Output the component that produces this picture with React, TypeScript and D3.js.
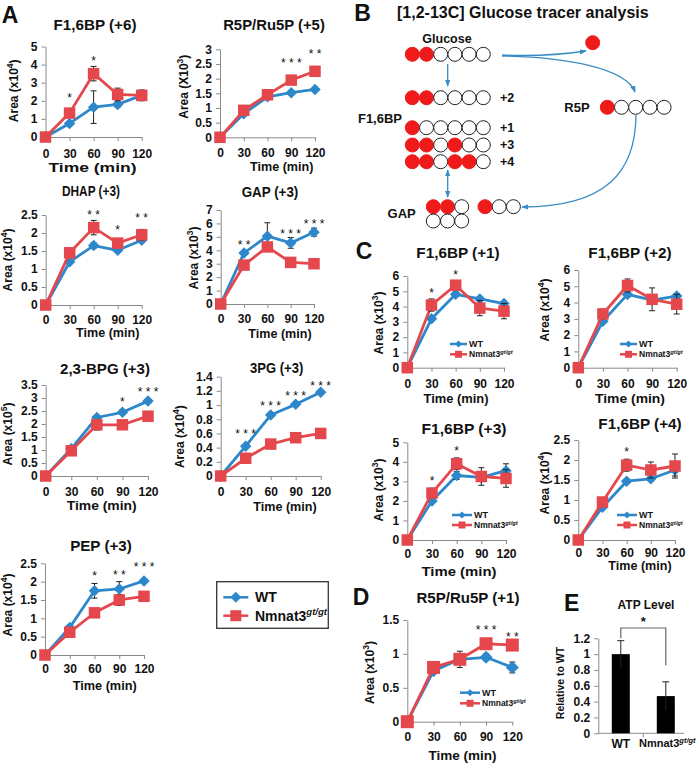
import React, { useEffect, useRef } from 'react';
import * as d3 from 'd3';

const FONT = "'Liberation Sans', Arial, Helvetica, sans-serif";
const BLUE = '#2d87cb';
const RED = '#e4484c';
const AXIS = '#8a8a8a';
const DOT_RED = '#ef1b1b';
const ARROW = '#3a8cc6';

const times = [0, 30, 60, 90, 120];

// Panel A
const f16bp6Wt = [0, 0.75, 1.65, 1.8, 2.3];
const f16bp6WtErr = [0, 0.08, 0.9, 0.15, 0.2];
const f16bp6Mut = [0, 1.32, 3.5, 2.35, 2.3];
const f16bp6MutErr = [0, 0.1, 0.4, 0.35, 0.3];
const f16bp6Stars = ['', '*', '*', '', ''];
const f16bp6StarY = [0, 2.3, 4.35, 0, 0];

const r5p5Wt = [0, 0.8, 1.38, 1.52, 1.63];
const r5p5WtErr = [0, 0.05, 0.05, 0.07, 0.07];
const r5p5Mut = [0, 0.92, 1.45, 1.95, 2.25];
const r5p5MutErr = [0, 0.05, 0.05, 0.08, 0.12];
const r5p5Stars = ['', '', '', '***', '**'];
const r5p5StarY = [0, 0, 0, 2.64, 2.95];

const dhapWt = [0, 1.2, 1.65, 1.52, 1.8];
const dhapWtErr = [0, 0.05, 0.07, 0.05, 0.05];
const dhapMut = [0, 1.45, 2.15, 1.72, 1.95];
const dhapMutErr = [0, 0.05, 0.2, 0.05, 0.15];
const dhapStars = ['', '', '**', '*', '**'];
const dhapStarY = [0, 0, 2.59, 2.16, 2.5];

const gapWt = [0, 3.8, 5.05, 4.55, 5.35];
const gapWtErr = [0, 0.15, 1.0, 0.4, 0.3];
const gapMut = [0, 2.9, 4.25, 3.1, 3.0];
const gapMutErr = [0, 0.1, 0.2, 0.1, 0.1];
const gapStars = ['', '**', '', '***', '***'];
const gapStarY = [0, 4.64, 0, 5.43, 6.2];

const bpgWt = [0, 1.05, 2.25, 2.45, 2.88];
const bpgWtErr = [0, 0.05, 0.08, 0.08, 0.08];
const bpgMut = [0, 0.97, 1.97, 1.97, 2.3];
const bpgMutErr = [0, 0.05, 0.2, 0.15, 0.08];
const bpgStars = ['', '', '', '*', '***'];
const bpgStarY = [0, 0, 0, 2.95, 3.33];

const pg3Wt = [0, 0.42, 0.86, 1.01, 1.18];
const pg3WtErr = [0, 0.02, 0.03, 0.02, 0.03];
const pg3Mut = [0, 0.25, 0.45, 0.54, 0.6];
const pg3MutErr = [0, 0.01, 0.01, 0.01, 0.01];
const pg3Stars = ['', '***', '***', '***', '***'];
const pg3StarY = [0, 0.634, 1.025, 1.166, 1.315];

const pepWt = [0, 0.75, 1.75, 1.8, 2.02];
const pepWtErr = [0, 0.05, 0.2, 0.2, 0.05];
const pepMut = [0, 0.62, 1.15, 1.5, 1.6];
const pepMutErr = [0, 0.05, 0.05, 0.15, 0.05];
const pepStars = ['', '', '*', '**', '***'];
const pepStarY = [0, 0, 2.23, 2.25, 2.47];

// Panel C
const c1Wt = [0, 3.2, 4.8, 4.5, 4.2];
const c1WtErr = [0, 0.1, 0.15, 0.1, 0.1];
const c1Mut = [0, 4.1, 5.4, 3.9, 3.7];
const c1MutErr = [0, 0.4, 0.3, 0.5, 0.5];
const c1Stars = ['', '*', '*', '', ''];
const c1StarY = [0, 5.08, 6.24, 0, 0];

const c2Wt = [0, 2.85, 4.5, 4.15, 4.4];
const c2WtErr = [0, 0.1, 0.15, 0.1, 0.15];
const c2Mut = [0, 3.3, 5.05, 4.2, 3.9];
const c2MutErr = [0, 0.3, 0.4, 0.7, 0.6];

const c3Wt = [0, 2.0, 3.3, 3.2, 3.55];
const c3WtErr = [0, 0.1, 0.2, 0.1, 0.35];
const c3Mut = [0, 2.4, 3.9, 3.25, 3.15];
const c3MutErr = [0, 0.25, 0.3, 0.45, 0.45];
const c3Stars = ['', '*', '*', '', ''];
const c3StarY = [0, 3.15, 4.7, 0, 0];

const c4Wt = [0, 0.82, 1.47, 1.53, 1.75];
const c4WtErr = [0, 0.03, 0.05, 0.05, 0.15];
const c4Mut = [0, 0.95, 1.87, 1.75, 1.85];
const c4MutErr = [0, 0.05, 0.15, 0.2, 0.3];
const c4Stars = ['', '', '*', '', ''];
const c4StarY = [0, 0, 2.27, 0, 0];

// Panel D
const dWt = [0, 0.75, 0.92, 0.95, 0.8];
const dWtErr = [0, 0.02, 0.03, 0.05, 0.08];
const dMut = [0, 0.8, 0.92, 1.15, 1.13];
const dMutErr = [0, 0.03, 0.12, 0.03, 0.03];
const dStars = ['', '', '', '***', '**'];
const dStarY = [0, 0, 0, 1.39, 1.3];

// Panel E
const atpCats = ['WT', 'Nmnat3'];
const atpVals = [1.0, 0.47];
const atpErr = [0.17, 0.18];

// Panel B carbon patterns (1 = labelled)
const glucoseAtoms = [1, 1, 0, 0, 0, 0];
const f16bpRows = [
  { label: '+2', atoms: [1, 1, 0, 0, 0, 0] },
  { label: '+1', atoms: [1, 0, 0, 0, 0, 0] },
  { label: '+3', atoms: [1, 1, 0, 1, 0, 0] },
  { label: '+4', atoms: [1, 1, 0, 1, 1, 0] }
];
const gapRows = [[1, 1, 0], [0, 0, 0]];
const gapRibose = [1, 0, 0];
const r5pAtoms = [1, 0, 0, 0, 0];

const charts = [
  { title: 'F1,6BP (+6)', exp: '4', xc: 'x', wt: f16bp6Wt, wtErr: f16bp6WtErr, mut: f16bp6Mut, mutErr: f16bp6MutErr, stars: f16bp6Stars, starY: f16bp6StarY, max: 5, step: 1,
    box: [45.5, 141.7, 137, 46.5], tl: [95, 25, 83], tm: [92.5, 167.5, 88], yl: [13.3, 90.8], tickY: 153.5 },
  { title: 'R5P/Ru5P (+5)', exp: '3', xc: 'X', wt: r5p5Wt, wtErr: r5p5WtErr, mut: r5p5Mut, mutErr: r5p5MutErr, stars: r5p5Stars, starY: r5p5StarY, max: 3, step: 0.5,
    box: [220, 315, 137.3, 49.3], tl: [274, 25, 101.7], tm: [281.7, 167, 63.3], yl: [183.3, 86.7], tickY: 153 },
  { title: 'DHAP (+3)', exp: '4', xc: 'x', wt: dhapWt, wtErr: dhapWtErr, mut: dhapMut, mutErr: dhapMutErr, stars: dhapStars, starY: dhapStarY, max: 2.5, step: 0.5,
    box: [45.7, 141.7, 305, 215], tl: [91, 191, 58], tm: [107.7, 333, 63.3], yl: [8, 260], tickY: 320 },
  { title: 'GAP (+3)', exp: '3', xc: 'x', wt: gapWt, wtErr: gapWtErr, mut: gapMut, mutErr: gapMutErr, stars: gapStars, starY: gapStarY, max: 7, step: 1,
    box: [220.7, 314, 304, 210], tl: [270, 191.7, 56.7], tm: [280, 333.3, 63.3], yl: [193.3, 258], tickY: 319 },
  { title: '2,3-BPG (+3)', exp: '5', xc: 'x', wt: bpgWt, wtErr: bpgWtErr, mut: bpgMut, mutErr: bpgMutErr, stars: bpgStars, starY: bpgStarY, max: 3.5, step: 0.5,
    box: [45.7, 148, 476, 385], tl: [105, 369.3, 90], tm: [101.7, 505.7, 70], yl: [8, 434], tickY: 491.7 },
  { title: '3PG (+3)', exp: '4', xc: 'x', wt: pg3Wt, wtErr: pg3WtErr, mut: pg3Mut, mutErr: pg3MutErr, stars: pg3Stars, starY: pg3StarY, max: 1.4, step: 0.2,
    box: [220.7, 320.7, 476, 376.7], tl: [276.7, 368.3, 53.3], tm: [285, 506.7, 63.3], yl: [180, 436.7], tickY: 491.7 },
  { title: 'PEP (+3)', exp: '4', xc: 'x', wt: pepWt, wtErr: pepWtErr, mut: pepMut, mutErr: pepMutErr, stars: pepStars, starY: pepStarY, max: 2.5, step: 0.5,
    box: [45, 144, 655, 563.3], tl: [101, 546, 61.7], tm: [104.7, 685.7, 64], yl: [8, 605], tickY: 669 },
  { title: 'F1,6BP (+1)', exp: '3', xc: 'x', wt: c1Wt, wtErr: c1WtErr, mut: c1Mut, mutErr: c1MutErr, stars: c1Stars, starY: c1StarY, max: 6, step: 1,
    box: [407.3, 504, 367.7, 276], tl: [458, 253.3, 83.3], tm: [456, 398.3, 65], yl: [378.3, 323], tickY: 384, leg: [450, 467, 469, 344, 354.3] },
  { title: 'F1,6BP (+2)', exp: '4', xc: 'x', wt: c2Wt, wtErr: c2WtErr, mut: c2Mut, mutErr: c2MutErr, stars: null, starY: null, max: 6, step: 1,
    box: [578.3, 676.7, 367.7, 270], tl: [630, 253.3, 83.3], tm: [630, 398.3, 70], yl: [545, 310], tickY: 384, leg: [620, 637, 639, 344, 354.3] },
  { title: 'F1,6BP (+3)', exp: '3', xc: 'x', wt: c3Wt, wtErr: c3WtErr, mut: c3Mut, mutErr: c3MutErr, stars: c3Stars, starY: c3StarY, max: 5, step: 1,
    box: [407.3, 506, 540, 442.3], tl: [464, 429.3, 85], tm: [459, 571.7, 75], yl: [378.3, 490], tickY: 554, leg: [452, 472, 474, 515, 525] },
  { title: 'F1,6BP (+4)', exp: '4', xc: 'x', wt: c4Wt, wtErr: c4WtErr, mut: c4Mut, mutErr: c4MutErr, stars: c4Stars, starY: c4StarY, max: 2.5, step: 0.5,
    box: [578.3, 675, 540, 440], tl: [640, 424.3, 83.3], tm: [640, 566, 63.3], yl: [545, 483], tickY: 553, leg: [617, 637, 639, 515, 525] },
  { title: 'R5P/Ru5P (+1)', exp: '3', xc: 'x', wt: dWt, wtErr: dWtErr, mut: dMut, mutErr: dMutErr, stars: dStars, starY: dStarY, max: 1.5, step: 0.5,
    box: [407.3, 512.3, 721.7, 620], tl: [468, 598.3, 103], tm: [462.5, 756, 68], yl: [370, 672.5], tickY: 737, leg: [460, 480, 482, 692.7, 703.3], mk: 13 }
];

const fmt = v => String(+v.toFixed(2));

const diamond = size => d3.symbol(d3.symbolSquare, size * size / 2)();
const square = size => d3.symbol(d3.symbolSquare, size * size)();

const mutLabel = (sel, fs) => {
  sel.append('tspan').text('Nmnat3');
  sel.append('tspan').attr('dy', -fs * 0.38).attr('font-size', fs * 0.68).attr('font-style', 'italic').text('gt/gt');
};

const drawLegendItem = (g, x0, x1, tx, yy, color, isWt, fs, mk) => {
  g.append('line').attr('x1', x0).attr('x2', x1).attr('y1', yy).attr('y2', yy)
    .attr('stroke', color).attr('stroke-width', 2.5);
  g.append('path').attr('d', isWt ? diamond(mk) : square(mk))
    .attr('transform', `translate(${(x0 + x1) / 2},${yy}) rotate(${isWt ? 45 : 0})`).attr('fill', color);
  const t = g.append('text').attr('x', tx).attr('y', yy).attr('dy', '0.35em').attr('font-size', fs);
  if (isWt) t.text('WT'); else mutLabel(t, fs);
};

const drawLineChart = (svg, c) => {
  const [x0, x1, y0, y1] = c.box;
  const x = d3.scaleLinear().domain([0, 120]).range([x0, x1]);
  const y = d3.scaleLinear().domain([0, c.max]).range([y0, y1]);
  const g = svg.append('g').attr('font-family', FONT).attr('font-weight', 'bold').attr('fill', '#111');
  const tickFs = 12;

  const ya = g.append('g').attr('transform', `translate(${x0},0)`)
    .call(d3.axisLeft(y).tickValues(d3.range(0, c.max + c.step / 2, c.step)).tickSize(4).tickSizeOuter(0).tickPadding(4).tickFormat(fmt));
  const xa = g.append('g').attr('transform', `translate(0,${y0})`)
    .call(d3.axisBottom(x).tickValues(times).tickSize(4).tickSizeOuter(0).tickPadding(c.tickY - y0 - 4 - 0.36 * tickFs).tickFormat(d3.format('d')));
  [ya, xa].forEach(a => {
    a.select('.domain').attr('stroke', AXIS);
    a.selectAll('.tick line').attr('stroke', AXIS);
    a.selectAll('text').attr('font-size', tickFs).attr('font-family', FONT).attr('font-weight', 'bold').attr('fill', '#111');
  });

  // title
  g.append('text').attr('x', c.tl[0]).attr('y', c.tl[1]).attr('dy', '0.35em').attr('text-anchor', 'middle')
    .attr('font-size', 14.5).attr('textLength', c.tl[2]).attr('lengthAdjust', 'spacingAndGlyphs').text(c.title);
  // x axis title
  g.append('text').attr('x', c.tm[0]).attr('y', c.tm[1]).attr('dy', '0.35em').attr('text-anchor', 'middle')
    .attr('font-size', 12.5).attr('textLength', c.tm[2]).attr('lengthAdjust', 'spacingAndGlyphs').text('Time (min)');
  // y axis title
  const yl = g.append('text').attr('transform', `translate(${c.yl[0]},${c.yl[1]}) rotate(-90)`).attr('text-anchor', 'middle').attr('font-size', 12);
  yl.append('tspan').attr('dy', '0.35em').text(`Area (${c.xc}10`);
  yl.append('tspan').attr('dy', -5).attr('font-size', 8.5).text(c.exp);
  yl.append('tspan').attr('dy', 5).text(')');

  const line = d3.line().x((d, i) => x(times[i])).y(d => y(d));
  const mk = c.mk || 11.5;
  const series = [
    { vals: c.wt, err: c.wtErr, color: BLUE, wt: true },
    { vals: c.mut, err: c.mutErr, color: RED, wt: false }
  ];
  series.forEach(s => {
    g.append('path').attr('d', line(s.vals)).attr('fill', 'none').attr('stroke', s.color).attr('stroke-width', 2.8).attr('stroke-linejoin', 'round');
    // error bars sit under the markers
    s.vals.forEach((v, i) => {
      const e = s.err[i];
      if (!e) return;
      const cx = x(times[i]);
      g.append('line').attr('x1', cx).attr('x2', cx).attr('y1', y(v - e)).attr('y2', y(v + e)).attr('stroke', '#222').attr('stroke-width', 1);
      [v - e, v + e].forEach(w => g.append('line').attr('x1', cx - 3).attr('x2', cx + 3).attr('y1', y(w)).attr('y2', y(w)).attr('stroke', '#222').attr('stroke-width', 1));
    });
    g.selectAll(null).data(s.vals).enter().append('path')
      .attr('d', s.wt ? diamond(mk) : square(mk))
      .attr('transform', (d, i) => `translate(${x(times[i])},${y(d)}) rotate(${s.wt ? 45 : 0})`)
      .attr('fill', s.color);
  });
  if (c.stars) {
    c.stars.forEach((s, i) => {
      if (!s) return;
      g.append('text').attr('x', x(times[i])).attr('y', y(c.starY[i]) + 7).attr('text-anchor', 'middle')
        .attr('font-size', 12).attr('font-weight', 'normal').text(s.split('').join(' '));
    });
  }
  if (c.leg) {
    const [lx0, lx1, tx, yWt, yMut] = c.leg;
    drawLegendItem(g, lx0, lx1, tx, yWt, BLUE, true, 9, 7);
    drawLegendItem(g, lx0, lx1, tx, yMut, RED, false, 8.5, 7);
  }
};

const drawDiagram = svg => {
  const g = svg.append('g').attr('font-family', FONT).attr('font-weight', 'bold').attr('fill', '#111');
  const r = 7;
  const sp = 14.2;
  const row = (atoms, xStart, yy) => {
    atoms.forEach((a, i) => {
      g.append('circle').attr('cx', xStart + i * sp).attr('cy', yy).attr('r', r)
        .attr('fill', a ? DOT_RED : '#fff').attr('stroke', a ? DOT_RED : '#222').attr('stroke-width', 1);
    });
  };
  const label = (s, xx, yy, fs, anchor = 'middle') =>
    g.append('text').attr('x', xx).attr('y', yy).attr('dy', '0.35em').attr('text-anchor', anchor).attr('font-size', fs).text(s);

  g.append('text').attr('x', 397).attr('y', 12.7).attr('dy', '0.35em').attr('font-size', 16).text('[1,2-13C] Glucose tracer analysis');

  label('Glucose', 447, 39, 12.5);
  row(glucoseAtoms, 412.3, 54.3);
  const rowY = [97.7, 127.7, 145, 161.7];
  f16bpRows.forEach((rw, i) => {
    row(rw.atoms, 412.3, rowY[i]);
    label(rw.label, 500, rowY[i], 12.5, 'start');
  });
  label('F1,6BP', 380, 118.3, 13);
  label('GAP', 401.7, 213.3, 13);
  row(gapRows[0], 433.3, 206.7);
  row(gapRows[1], 433.3, 221);
  row(gapRibose, 485, 206.7);
  label('R5P', 577, 107.3, 13);
  row(r5pAtoms, 607.3, 107.3);
  row([1], 592.7, 42.7);

  const defs = svg.append('defs');
  defs.append('marker').attr('id', 'arrB').attr('viewBox', '0 0 8 6').attr('refX', 7).attr('refY', 3)
    .attr('markerWidth', 7).attr('markerHeight', 5.5).attr('markerUnits', 'userSpaceOnUse').attr('orient', 'auto-start-reverse')
    .append('path').attr('d', 'M0,0L8,3L0,6z').attr('fill', ARROW);

  const arrows = [
    { d: 'M447.7,64 L447.7,86', both: false },
    { d: 'M447.7,170 L447.7,197', both: true },
    { d: 'M502,55 Q545,57 586,51', both: false },
    { d: 'M502,56 C565,57 626,68 635,92', both: false },
    { d: 'M636,114 C636,172 606,207 522,207', both: false }
  ];
  arrows.forEach(a => {
    const p = g.append('path').attr('d', a.d).attr('fill', 'none').attr('stroke', ARROW).attr('stroke-width', 1.3)
      .attr('marker-end', 'url(#arrB)');
    if (a.both) p.attr('marker-start', 'url(#arrB)');
  });
};

const drawAtp = svg => {
  const g = svg.append('g').attr('font-family', FONT).attr('font-weight', 'bold').attr('fill', '#111');
  const x = d3.scaleBand().domain(atpCats).range([598.3, 688.3]).paddingInner(0.6).paddingOuter(0.3);
  const y = d3.scaleLinear().domain([0, 1.2]).range([733.3, 638.3]);
  const ya = g.append('g').attr('transform', 'translate(598.3,0)')
    .call(d3.axisLeft(y).tickValues(d3.range(0, 1.3, 0.2)).tickSize(4).tickSizeOuter(0).tickPadding(4).tickFormat(fmt));
  ya.select('.domain').attr('stroke', AXIS);
  ya.selectAll('.tick line').attr('stroke', AXIS);
  ya.selectAll('text').attr('font-size', 12).attr('font-family', FONT).attr('font-weight', 'bold').attr('fill', '#111');
  g.append('line').attr('x1', 598.3).attr('x2', 684).attr('y1', 733.3).attr('y2', 733.3).attr('stroke', AXIS);
  g.append('line').attr('x1', 643.3).attr('x2', 643.3).attr('y1', 733.3).attr('y2', 737.3).attr('stroke', AXIS);

  g.selectAll(null).data(atpVals).enter().append('rect')
    .attr('x', (d, i) => x(atpCats[i])).attr('width', x.bandwidth())
    .attr('y', d => y(d)).attr('height', d => y(0) - y(d)).attr('fill', '#000');
  atpVals.forEach((v, i) => {
    const cx = x(atpCats[i]) + x.bandwidth() / 2;
    g.append('line').attr('x1', cx).attr('x2', cx).attr('y1', y(v - atpErr[i])).attr('y2', y(v + atpErr[i])).attr('stroke', '#222');
    g.append('line').attr('x1', cx - 3.5).attr('x2', cx + 3.5).attr('y1', y(v + atpErr[i])).attr('y2', y(v + atpErr[i])).attr('stroke', '#222');
  });
  const c0 = x(atpCats[0]) + x.bandwidth() / 2;
  const c1 = x(atpCats[1]) + x.bandwidth() / 2;
  g.append('path').attr('d', `M${c0},${y(1.2)} L${c0},${y(1.33)} L${c1},${y(1.33)} L${c1},${y(0.86)}`)
    .attr('fill', 'none').attr('stroke', '#666').attr('stroke-width', 1.2);
  g.append('text').attr('x', (c0 + c1) / 2).attr('y', y(1.45) + 7).attr('text-anchor', 'middle').attr('font-size', 13).text('*');

  g.append('text').attr('x', 646).attr('y', 605).attr('dy', '0.35em').attr('text-anchor', 'middle').attr('font-size', 12).text('ATP Level');
  g.append('text').attr('transform', 'translate(560,683) rotate(-90)').attr('dy', '0.35em').attr('text-anchor', 'middle')
    .attr('font-size', 10.5).text('Relative to WT');
  g.append('text').attr('x', c0).attr('y', 743.3).attr('dy', '0.35em').attr('text-anchor', 'middle').attr('font-size', 12).text('WT');
  const mt = g.append('text').attr('x', 639).attr('y', 743.3).attr('dy', '0.35em').attr('font-size', 11);
  mutLabel(mt, 11);
};

const App = () => {
  const svgRef = useRef(null);

  useEffect(() => {
    if (!svgRef.current) return;
    const svg = d3.select(svgRef.current);
    svg.selectAll('*').remove();

    svg.append('rect').attr('width', 700).attr('height', 763).attr('fill', '#fff');

    charts.forEach(c => drawLineChart(svg, c));
    drawDiagram(svg);
    drawAtp(svg);

    // main legend for panel A
    const lg = svg.append('g').attr('font-family', FONT).attr('font-weight', 'bold').attr('fill', '#111');
    lg.append('rect').attr('x', 216.7).attr('y', 581.7).attr('width', 111.6).attr('height', 46.6)
      .attr('fill', '#fff').attr('stroke', '#333').attr('stroke-width', 1.3);
    drawLegendItem(lg, 223.3, 248.3, 255, 597.3, BLUE, true, 14, 11);
    drawLegendItem(lg, 223.3, 248.3, 255, 615.7, RED, false, 14, 11);

    // panel letters
    const letters = [['A', 10, 15.3], ['B', 362.5, 12.5], ['C', 364, 251], ['D', 361, 597], ['E', 571.7, 602.5]];
    svg.append('g').attr('font-family', FONT).attr('font-weight', 'bold').attr('fill', '#111')
      .selectAll('text').data(letters).enter().append('text')
      .attr('x', d => d[1]).attr('y', d => d[2]).attr('dy', '0.35em').attr('text-anchor', 'middle').attr('font-size', 23)
      .text(d => d[0]);
  }, []);

  return (
    <svg ref={svgRef} width={700} height={763} style={{ position: 'absolute', left: 0, top: 0 }} />
  );
};

export default App;
